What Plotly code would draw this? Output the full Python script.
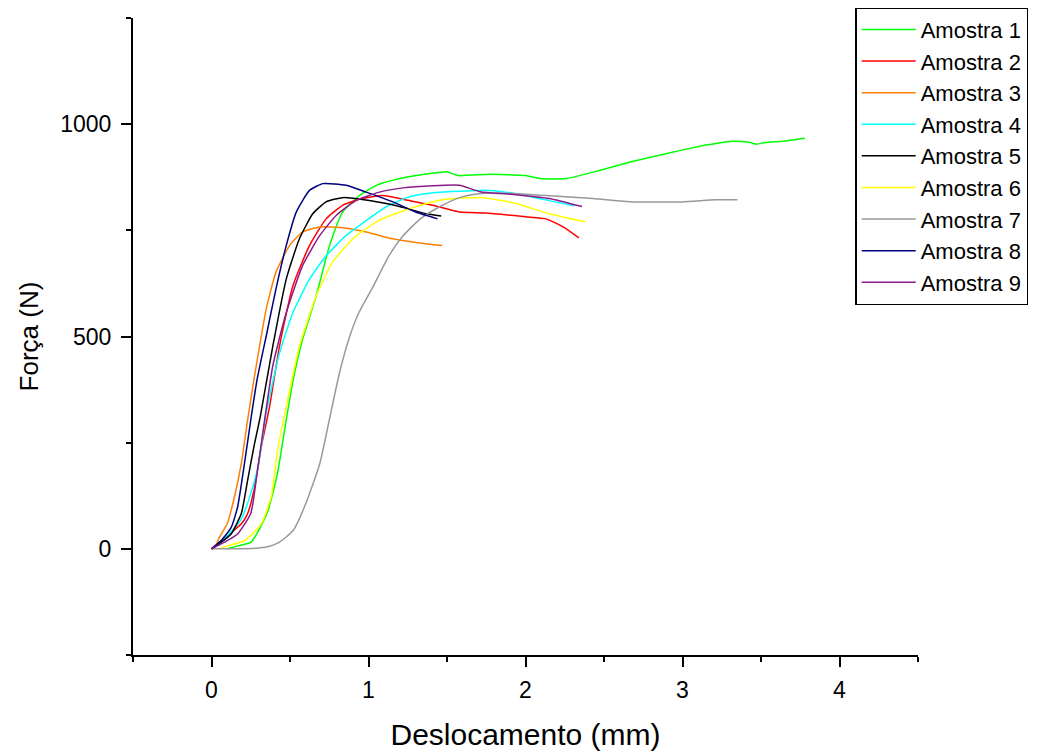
import plotly.graph_objects as go

names = ["Amostra 1", "Amostra 2", "Amostra 3", "Amostra 4", "Amostra 5",
         "Amostra 6", "Amostra 7", "Amostra 8", "Amostra 9"]
colors = ["#00FF00", "#FF0000", "#FF8000", "#00FFFF", "#000000",
          "#FFFF00", "#999999", "#000080", "#8B1A8B"]

x1 = [0.10, 0.17, 0.25, 0.31, 0.36, 0.42, 0.47, 0.52, 0.58, 0.667, 0.752, 0.835, 0.943, 1.05, 1.20, 1.39, 1.50, 1.57, 1.77, 2.00, 2.09, 2.26, 2.47, 2.68, 2.90, 3.11, 3.17, 3.32, 3.43, 3.47, 3.53, 3.64, 3.78]
y1 = [0, 7, 15, 50, 90, 177, 290, 398, 493, 596, 714, 793, 832, 856, 872, 884, 888, 879, 882, 879, 872, 872, 891, 912, 931, 948, 952, 960, 957, 953, 957, 960, 967]

x2 = [0.0, 0.10, 0.19, 0.23, 0.27, 0.317, 0.37, 0.433, 0.518, 0.624, 0.73, 0.835, 0.96, 1.09, 1.26, 1.41, 1.58, 1.75, 2.00, 2.13, 2.24, 2.34]
y2 = [0, 30, 59, 83, 137, 240, 335, 477, 619, 714, 777, 809, 825, 832, 820, 809, 793, 791, 782, 777, 758, 732]

x3 = [0.0, 0.02, 0.05, 0.10, 0.146, 0.19, 0.23, 0.27, 0.306, 0.348, 0.41, 0.497, 0.58, 0.69, 0.835, 0.985, 1.155, 1.325, 1.47]
y3 = [0, 3, 27, 59, 122, 201, 303, 398, 477, 564, 651, 714, 746, 758, 756, 746, 730, 720, 714]

x4 = [0.0, 0.06, 0.125, 0.19, 0.25, 0.30, 0.348, 0.433, 0.518, 0.624, 0.73, 0.858, 0.985, 1.11, 1.26, 1.43, 1.58, 1.77, 1.94, 2.15, 2.31]
y4 = [0, 15, 40, 70, 130, 200, 319, 461, 556, 635, 690, 738, 773, 805, 829, 839, 842, 844, 836, 820, 808]

x5 = [0.0, 0.06, 0.125, 0.19, 0.23, 0.27, 0.31, 0.39, 0.476, 0.56, 0.645, 0.73, 0.835, 1.006, 1.197, 1.367, 1.463]
y5 = [0, 15, 35, 83, 161, 240, 310, 476, 635, 730, 789, 817, 827, 820, 806, 789, 784]

x6 = [0.05, 0.10, 0.21, 0.317, 0.38, 0.42, 0.476, 0.56, 0.667, 0.77, 0.90, 1.05, 1.20, 1.37, 1.49, 1.73, 1.94, 2.15, 2.38]
y6 = [0, 7, 19, 59, 122, 230, 335, 477, 596, 675, 730, 770, 793, 813, 823, 827, 813, 789, 770]

x7 = [0.0, 0.15, 0.30, 0.37, 0.43, 0.52, 0.60, 0.69, 0.75, 0.815, 0.88, 0.94, 1.03, 1.13, 1.22, 1.33, 1.45, 1.58, 1.70, 1.83, 2.13, 2.43, 2.68, 3.00, 3.21, 3.35]
y7 = [0, 0, 2, 6, 15, 43, 106, 201, 303, 414, 500, 557, 618, 690, 737, 777, 805, 827, 836, 838, 832, 825, 817, 817, 822, 822]

x8 = [0.0, 0.06, 0.125, 0.166, 0.21, 0.25, 0.29, 0.348, 0.41, 0.476, 0.54, 0.624, 0.71, 0.858, 0.985, 1.155, 1.30, 1.44]
y8 = [0, 19, 50, 98, 201, 303, 398, 500, 611, 714, 793, 844, 860, 856, 840, 817, 793, 777]

x9 = [0.0, 0.08, 0.166, 0.25, 0.29, 0.39, 0.476, 0.58, 0.69, 0.794, 0.92, 1.07, 1.22, 1.41, 1.58, 1.71, 1.94, 2.15, 2.36]
y9 = [0, 15, 35, 83, 177, 430, 556, 667, 738, 785, 820, 840, 850, 855, 856, 841, 834, 825, 806]

xs = [x1, x2, x3, x4, x5, x6, x7, x8, x9]
ys = [y1, y2, y3, y4, y5, y6, y7, y8, y9]

FONT = "Liberation Sans, Arial"

fig = go.Figure()
for n, c, x, y in zip(names, colors, xs, ys):
    fig.add_trace(go.Scatter(x=x, y=y, mode="lines", name=n,
                             line=dict(color=c, width=1.5, shape="spline", smoothing=0.5)))

axis_common = dict(
    showline=True, linecolor="black", linewidth=2, showgrid=False, zeroline=False,
    ticks="outside", ticklen=10, tickwidth=2, tickcolor="black", mirror=False,
)

fig.update_layout(
    width=1043, height=753,
    paper_bgcolor="white", plot_bgcolor="white",
    margin=dict(l=125, r=133, t=10, b=106, autoexpand=False),
    font=dict(family=FONT, color="black"),
    xaxis=dict(range=[-0.5, 4.5], tickmode="linear", tick0=0, dtick=1,
               tickfont=dict(family=FONT, size=23, color="black"),
               ticklabelstandoff=3,
               minor=dict(ticks="outside", ticklen=5, tickwidth=2, tickcolor="black", dtick=0.5, tick0=0.5),
               title=dict(text="Deslocamento (mm)", font=dict(family=FONT, size=30, color="black"), standoff=22),
               **axis_common),
    yaxis=dict(range=[-250, 1250], tickmode="linear", tick0=0, dtick=500,
               tickfont=dict(family=FONT, size=23, color="black"),
               ticklabelstandoff=5,
               minor=dict(ticks="outside", ticklen=5, tickwidth=2, tickcolor="black", dtick=250, tick0=250),
               title=dict(text="Força (N)", font=dict(family=FONT, size=26, color="black"), standoff=14),
               **axis_common),
    legend=dict(x=0.92, y=1.017, xanchor="left", yanchor="top",
                bordercolor="black", borderwidth=1.5, bgcolor="white",
                font=dict(family=FONT, size=22, color="black"),
                itemwidth=54, tracegroupgap=0),
    showlegend=True,
)

fig.write_html("out.html")
